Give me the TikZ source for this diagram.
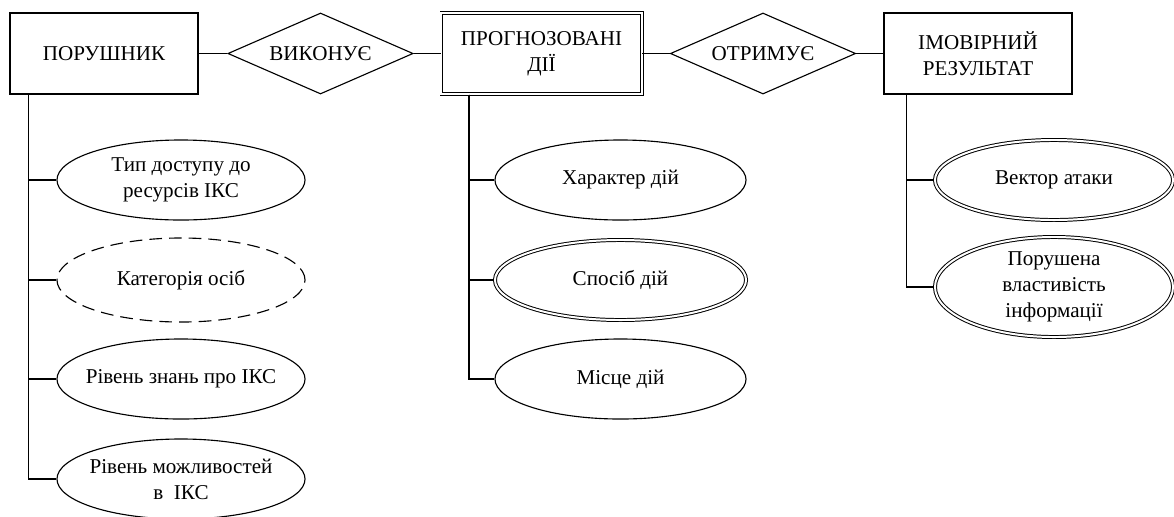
\documentclass[tikz,border=0pt]{standalone}
\usepackage{fontspec}
\setmainfont{Liberation Serif}
\usetikzlibrary{shapes.geometric}

\begin{document}
\begin{tikzpicture}[x=0.025cm,y=-0.025cm,
  every node/.style={font=\fontsize{15}{18.5}\selectfont},
  ent/.style={draw,line width=0.8pt,rectangle,minimum width=4.7cm,minimum height=2.025cm,inner sep=0pt,align=center},
  weakent/.style={ent,double,double distance=1.4pt,line width=0.7pt,minimum width=5.0cm},
  rel/.style={draw,line width=0.8pt,diamond,aspect=2.28,minimum width=4.63cm,minimum height=2.025cm,inner sep=0pt},
  attr/.style={draw,line width=0.8pt,ellipse,minimum height=2cm,inner sep=0pt},
  keyattr/.style={attr,double,double distance=1.4pt,line width=0.7pt},
  optattr/.style={attr,dash pattern=on 9pt off 5pt},
  lbl/.style={align=center,inner sep=0pt},
  link/.style={line width=0.8pt}]
\useasboundingbox (0,0) rectangle (1174,516);
% entities and relations
\node[ent] (por) at (104,53.5) {ПОРУШНИК};
\node[rel] (vyk) at (320.5,53.5) {ВИКОНУЄ};
\node[weakent] (dii) at (541.5,53.5) {ПРОГНОЗОВАНІ\\ДІЇ};
\node[rel] (otr) at (763,53.5) {ОТРИМУЄ};
\node[ent] (rez) at (978,53.5) {ІМОВІРНИЙ\\РЕЗУЛЬТАТ};
\draw[link] (por) -- (vyk);
\draw[link] (vyk) -- (dii);
\draw[link] (dii) -- (otr);
\draw[link] (otr) -- (rez);
% attributes of the intruder
\node[attr,minimum width=6.2cm,label={[lbl]center:Тип доступу до\\ресурсів ІКС}] (typ) at (181,180) {};
\node[optattr,minimum width=6.2cm,minimum height=2.1cm,label={[lbl]center:Категорія осіб}] (kat) at (181,280) {};
\node[attr,minimum width=6.2cm,label={[lbl]center:Рівень знань про ІКС}] (zn) at (181,379) {};
\node[attr,minimum width=6.2cm,label={[lbl]center:Рівень можливостей\\в\ \ ІКС}] (mozh) at (181,479) {};
\coordinate (porstem) at ([xshift=0.475cm]por.south west);
\draw[link] (porstem) |- (typ.west);
\draw[link] (porstem) |- (kat.west);
\draw[link] (porstem) |- (zn.west);
\draw[link] (porstem) |- (mozh.west);
% attributes of the actions
\node[attr,minimum width=6.275cm,label={[lbl]center:Характер дій}] (khar) at (620.5,180) {};
\node[keyattr,minimum width=6.275cm,label={[lbl]center:Спосіб дій}] (spos) at (620.5,280) {};
\node[attr,minimum width=6.275cm,label={[lbl]center:Місце дій}] (mis) at (620.5,379) {};
\coordinate (diistem) at ([xshift=0.7cm]dii.south west);
\draw[link] (diistem) |- (khar.west);
\draw[link] (diistem) |- (spos.west);
\draw[link] (diistem) |- (mis.west);
% attributes of the result
\node[keyattr,minimum width=5.95cm,label={[lbl]center:Вектор атаки}] (vek) at (1054,180) {};
\node[keyattr,minimum width=5.95cm,minimum height=2.5cm,label={[lbl]center:Порушена\\властивість\\інформації}] (vlas) at (1054,287) {};
\coordinate (rezstem) at ([xshift=0.575cm]rez.south west);
\draw[link] (rezstem) |- (vek.west);
\draw[link] (rezstem) |- (vlas.west);
\end{tikzpicture}
\end{document}
